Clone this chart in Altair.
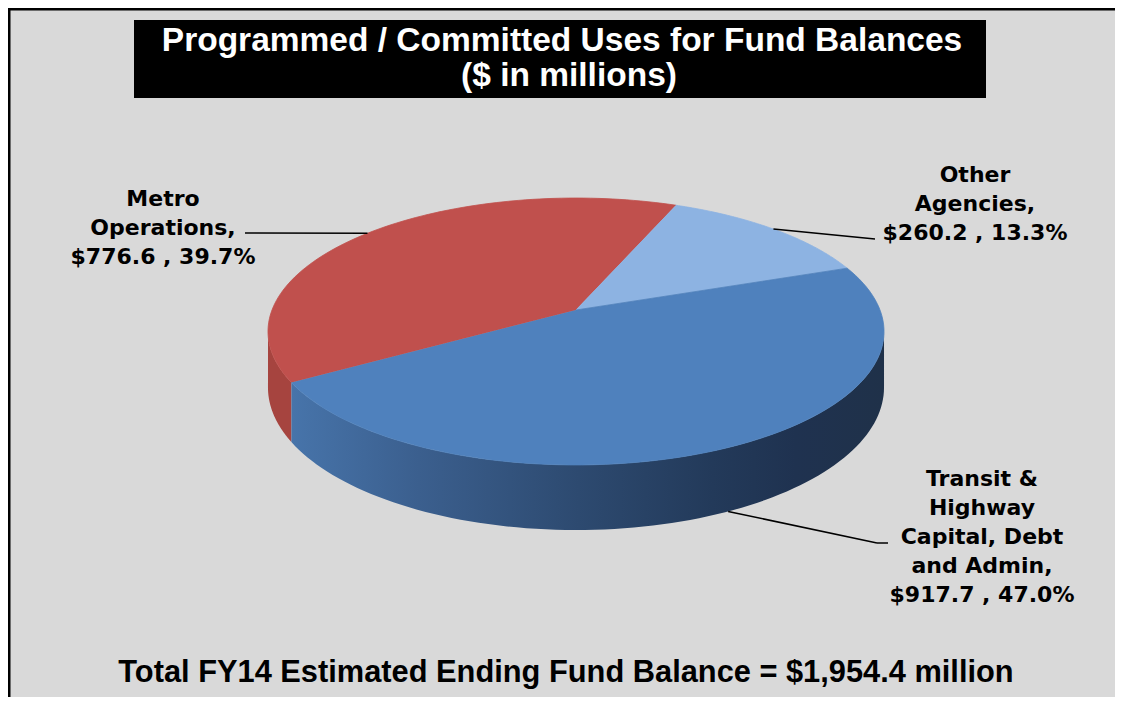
import altair as alt
import pandas as pd

# ---------------- data ----------------
CATEGORIES = ["Metro Operations", "Other Agencies", "Transit & Highway Capital, Debt and Admin"]
VALUES = [776.6, 260.2, 917.7]
LABEL_LINES = [["Metro", "Operations,"], ["Other", "Agencies,"],
               ["Transit &", "Highway", "Capital, Debt", "and Admin,"]]
TITLE_LINES = ["Programmed / Committed Uses for Fund Balances", "($ in millions)"]
FOOTER = "Total FY14 Estimated Ending Fund Balance = $1,954.4 million"

# ---------------- style / layout ----------------
TOP_COLORS = ["#C0504D", "#8DB3E2", "#4F81BD"]
SIDE_FILLS = [
    "#A6443F",
    "#7A9CC6",
    alt.LinearGradient(gradient="linear", x1=0, x2=1, y1=0, y2=0, stops=[
        alt.GradientStop(color="#4774AA", offset=0),
        alt.GradientStop(color="#3B5F8E", offset=0.215),
        alt.GradientStop(color="#2D4A70", offset=0.485),
        alt.GradientStop(color="#233A5A", offset=0.71),
        alt.GradientStop(color="#1F3250", offset=0.85),
        alt.GradientStop(color="#1F3149", offset=1),
    ]),
]
W, H = 1107, 689
CX, CY, RX, RY, K, DEPTH = 576, 310, 304, 130, 0.161, 54.6
START = 239.2 * 3.141592653589793 / 180
N = 90
LABEL_X = [163, 975, 982]
LABEL_Y0 = [206, 182, 486]
LINE_H = 29
ELBOW = [(245, 233), (875, 239), (877, 543)]
HOOK = [0, 0, 11]
BG = "#D9D9D9"

data = pd.DataFrame({
    "category": CATEGORIES, "value": VALUES, "order": list(range(len(CATEGORIES))),
    "ex": [e[0] for e in ELBOW], "ey": [e[1] for e in ELBOW], "hook": HOOK,
})
data["ex2"] = data["ex"] + data["hook"]

total = sum(VALUES)
rows = []
for i, c in enumerate(CATEGORIES):
    lines = LABEL_LINES[i] + [f"${VALUES[i]:.1f} , {VALUES[i] / total * 100:.1f}%"]
    for j, t in enumerate(lines):
        rows.append({"category": c, "text": t, "x": LABEL_X[i], "y": LABEL_Y0[i] + j * LINE_H})
labels_df = pd.DataFrame(rows)

title_df = pd.DataFrame({"text": TITLE_LINES, "x": [562, 569], "y": [51, 86]})
footer_df = pd.DataFrame({"text": [FOOTER], "x": [566], "y": [682]})
box_df = pd.DataFrame({"x": [134], "x2": [986], "y": [20], "y2": [98]})

xs = alt.Scale(domain=[8, 8 + W], range=[0, W], nice=False, zero=False)
ys = alt.Scale(domain=[8, 8 + H], range=[0, H], nice=False, zero=False)
cscale = alt.Scale(domain=CATEGORIES, range=TOP_COLORS)


def with_angles(ch):
    return (ch.transform_joinaggregate(total="sum(value)")
              .transform_window(cum="sum(value)", sort=[alt.SortField(field="order", order="ascending")],
                                frame=[None, 0])
              .transform_calculate(a0=f"{START} + 2*PI*(datum.cum - datum.value)/datum.total")
              .transform_calculate(a1=f"{START} + 2*PI*datum.cum/datum.total"))


bg = alt.Chart(box_df).mark_rect(color=BG).encode(
    x=alt.value(0), x2=alt.value(W), y=alt.value(0), y2=alt.value(H))

# ---- side walls ----
side_layers = []
for i, c in enumerate(CATEGORIES):
    s = (with_angles(alt.Chart(data))
         .transform_filter(alt.datum.category == c)
         .transform_calculate(b0="datum.a0 - 2*PI*floor(datum.a0/(2*PI))")
         .transform_calculate(b1="datum.b0 + datum.a1 - datum.a0")
         .transform_calculate(s=f"max(datum.b0, acos(-{K}))")
         .transform_calculate(e=f"min(datum.b1, 2*PI - acos(-{K}))")
         .transform_filter("datum.e > datum.s")
         .transform_calculate(idx=f"sequence(0, {2 * N + 2})")
         .transform_flatten(["idx"])
         .transform_calculate(phi=f"datum.idx <= {N} ? datum.s + (datum.e - datum.s)*datum.idx/{N} : "
                                  f"datum.e - (datum.e - datum.s)*(datum.idx - {N + 1})/{N}")
         .transform_calculate(dz=f"datum.idx <= {N} ? 0 : {DEPTH}")
         .transform_calculate(sc=f"1/(1 + {K}*cos(datum.phi))")
         .transform_calculate(px=f"{CX} + {RX}*sin(datum.phi)*datum.sc")
         .transform_calculate(py=f"{CY} + (datum.dz - {RY}*cos(datum.phi))*datum.sc")
         .mark_line(filled=True, fill=SIDE_FILLS[i], strokeWidth=0, opacity=1)
         .encode(x=alt.X("px:Q", scale=xs, axis=None),
                 y=alt.Y("py:Q", scale=ys, axis=None),
                 order=alt.Order("idx:Q"),
                 detail="category:N"))
    side_layers.append(s)

# ---- top faces ----
top = (with_angles(alt.Chart(data))
       .transform_calculate(idx=f"sequence(0, {N + 2})")
       .transform_flatten(["idx"])
       .transform_calculate(phi=f"datum.a0 + (datum.a1 - datum.a0)*(datum.idx - 1)/{N}")
       .transform_calculate(sc=f"1/(1 + {K}*cos(datum.phi))")
       .transform_calculate(px=f"datum.idx == 0 ? {CX} : {CX} + {RX}*sin(datum.phi)*datum.sc")
       .transform_calculate(py=f"datum.idx == 0 ? {CY} : {CY} - {RY}*cos(datum.phi)*datum.sc")
       .mark_line(filled=True, strokeWidth=0.8, opacity=1)
       .encode(x=alt.X("px:Q", scale=xs, axis=None),
               y=alt.Y("py:Q", scale=ys, axis=None),
               order=alt.Order("idx:Q"),
               color=alt.Color("category:N", scale=cscale, legend=None),
               stroke=alt.Stroke("category:N", scale=cscale, legend=None)))

# ---- leader lines ----
leader_base = (with_angles(alt.Chart(data))
               .transform_calculate(mid="(datum.a0 + datum.a1)/2")
               .transform_calculate(sc=f"1/(1 + {K}*cos(datum.mid))")
               .transform_calculate(lx=f"{CX} + {RX}*sin(datum.mid)*datum.sc")
               .transform_calculate(ly=f"{CY} + ((cos(datum.mid) < -{K}) ? {DEPTH} : 0)*datum.sc"
                                       f" - {RY}*cos(datum.mid)*datum.sc"))
leader = leader_base.mark_rule(color="black", strokeWidth=1.5).encode(
    x=alt.X("lx:Q", scale=xs, axis=None), y=alt.Y("ly:Q", scale=ys, axis=None),
    x2="ex:Q", y2="ey:Q")
hook = alt.Chart(data).transform_filter("datum.hook > 0").mark_rule(color="black", strokeWidth=1.5).encode(
    x=alt.X("ex:Q", scale=xs, axis=None), y=alt.Y("ey:Q", scale=ys, axis=None), x2="ex2:Q")

labels = alt.Chart(labels_df).mark_text(
    font="DejaVu Sans", fontWeight="bold", fontSize=22, align="center", baseline="alphabetic", color="black"
).encode(x=alt.X("x:Q", scale=xs, axis=None), y=alt.Y("y:Q", scale=ys, axis=None), text="text:N")

box = alt.Chart(box_df).mark_rect(color="black").encode(
    x=alt.X("x:Q", scale=xs, axis=None), x2="x2:Q", y=alt.Y("y:Q", scale=ys, axis=None), y2="y2:Q")
title = alt.Chart(title_df).mark_text(
    font="Liberation Sans", fontWeight="bold", fontSize=33.5, align="center", baseline="alphabetic", color="white"
).encode(x=alt.X("x:Q", scale=xs, axis=None), y=alt.Y("y:Q", scale=ys, axis=None), text="text:N")
footer = alt.Chart(footer_df).mark_text(
    font="Liberation Sans", fontWeight="bold", fontSize=30.8, align="center", baseline="alphabetic", color="black"
).encode(x=alt.X("x:Q", scale=xs, axis=None), y=alt.Y("y:Q", scale=ys, axis=None), text="text:N")

border_top = alt.Chart(box_df).mark_rect(color="black").encode(
    x=alt.value(0), x2=alt.value(W), y=alt.value(0), y2=alt.value(2.5))
border_left = alt.Chart(box_df).mark_rect(color="black").encode(
    x=alt.value(0), x2=alt.value(2.5), y=alt.value(0), y2=alt.value(H))

chart = alt.layer(
    bg, *side_layers, top, leader, hook, labels, box, title, footer, border_top, border_left
).properties(
    width=W, height=H, background=BG, padding=0, autosize=alt.AutoSizeParams(type="none")
).configure_view(stroke=None, strokeWidth=0)

chart.save("out.html", embed_options={"renderer": "svg", "actions": False})
